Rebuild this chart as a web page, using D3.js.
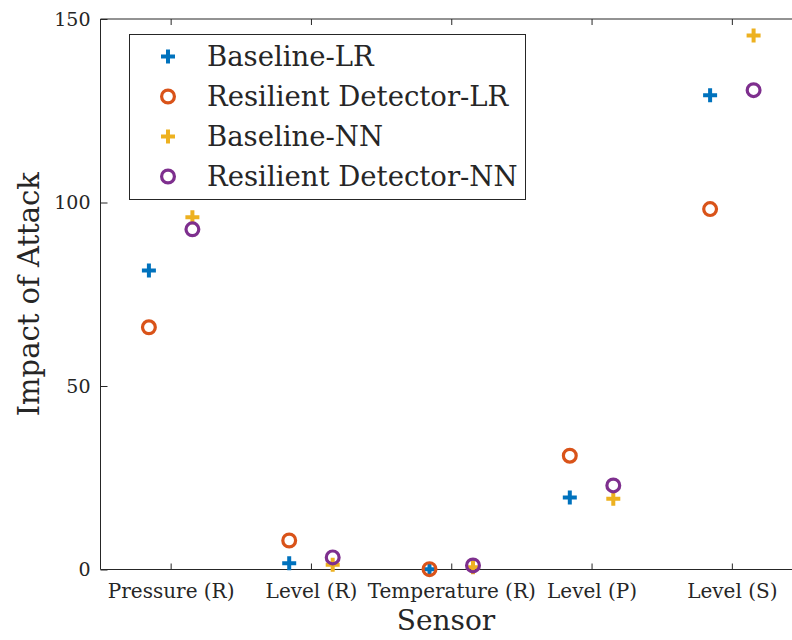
<!DOCTYPE html>
<html>
<head>
<meta charset="utf-8">
<script src="https://cdn.jsdelivr.net/npm/d3@7"></script>
<style>
  body { margin: 0; background: #fff; }
  text { font-family: "DejaVu Serif", serif; fill: #262626; }
</style>
</head>
<body>
<div id="plotviz"></div>
<script>
const sensors = ["Pressure (R)", "Level (R)", "Temperature (R)", "Level (P)", "Level (S)"];
const seriesNames = ["Baseline-LR", "Resilient Detector-LR", "Baseline-NN", "Resilient Detector-NN"];
const baselineLR = [81.5, 1.7, 0.1, 19.6, 129.2];
const resilientLR = [66.0, 7.9, 0.1, 31.0, 98.2];
const baselineNN = [96.0, 1.3, 0.6, 19.3, 145.5];
const resilientNN = [92.7, 3.3, 1.1, 22.9, 130.6];
const yTicks = [0, 50, 100, 150];

const colors = ["#0072BD", "#D95319", "#EDB120", "#7E2F8E"];
const shapes = ["plus", "circle", "plus", "circle"];
const offsets = [-0.155, -0.155, 0.155, 0.155];
const allSeries = [baselineLR, resilientLR, baselineNN, resilientNN];

const W = 792, H = 640;
const axLeft = 100.5, axTop = 19, axBottom = 569.5, axRight = 802;

const svg = d3.select("#plotviz").append("svg")
  .attr("width", W).attr("height", H);

const x = d3.scaleLinear().domain([0.5, 5.5]).range([axLeft, axRight]);
const y = d3.scaleLinear().domain([0, 150]).range([axBottom, axTop]);

const axisColor = "#262626";

// axes box lines
svg.append("line").attr("x1", axLeft).attr("x2", axRight).attr("y1", axBottom).attr("y2", axBottom)
  .attr("stroke", axisColor).attr("stroke-width", 1);
svg.append("line").attr("x1", axLeft).attr("x2", axRight).attr("y1", axTop).attr("y2", axTop)
  .attr("stroke", axisColor).attr("stroke-width", 1);
svg.append("line").attr("x1", axLeft).attr("x2", axLeft).attr("y1", axTop).attr("y2", axBottom)
  .attr("stroke", axisColor).attr("stroke-width", 1);

// x ticks (inward, bottom and top)
const xAxis = d3.axisBottom(x).tickValues(d3.range(1, 6)).tickSize(-6).tickPadding(14)
  .tickFormat((d) => sensors[d - 1]);
const gx = svg.append("g").attr("transform", `translate(0,${axBottom})`).call(xAxis);
gx.select(".domain").remove();
gx.selectAll(".tick line").attr("stroke", axisColor);
gx.selectAll(".tick text").style("font-size", "20px").attr("fill", "#262626");

const gxTop = svg.append("g").attr("transform", `translate(0,${axTop})`)
  .call(d3.axisTop(x).tickValues(d3.range(1, 6)).tickSize(-6).tickFormat(""));
gxTop.select(".domain").remove();
gxTop.selectAll(".tick line").attr("stroke", axisColor);

// y ticks
const gy = svg.append("g").attr("transform", `translate(${axLeft},0)`)
  .call(d3.axisLeft(y).tickValues(yTicks).tickSize(-7).tickPadding(10));
gy.select(".domain").remove();
gy.selectAll(".tick line").attr("stroke", axisColor);
gy.selectAll(".tick text").style("font-size", "19px").attr("fill", "#262626");

// axis labels
svg.append("text")
  .attr("x", 446).attr("y", 630)
  .attr("text-anchor", "middle")
  .style("font-size", "28px")
  .attr("fill", "#000")
  .text("Sensor");
svg.append("text")
  .attr("transform", `translate(39,${(axTop + axBottom) / 2}) rotate(-90)`)
  .attr("text-anchor", "middle")
  .style("font-size", "29px")
  .attr("fill", "#000")
  .text("Impact of Attack");

const plusPath = "M-7,0H7M0,-7V7";

function drawMarker(sel, shape, color) {
  if (shape === "plus") {
    sel.append("path").attr("d", plusPath)
      .attr("fill", "none").attr("stroke", color).attr("stroke-width", 4);
  } else {
    sel.append("circle").attr("r", 6.4)
      .attr("fill", "none").attr("stroke", color).attr("stroke-width", 3.2);
  }
}

// points
allSeries.forEach((vals, si) => {
  const g = svg.append("g");
  g.selectAll("g.pt")
    .data(vals)
    .join("g")
    .attr("class", "pt")
    .attr("transform", (d, i) => `translate(${x(i + 1 + offsets[si])},${y(d)})`)
    .each(function () { drawMarker(d3.select(this), shapes[si], colors[si]); });
});

// legend
const lg = svg.append("g");
lg.append("rect")
  .attr("x", 129.5).attr("y", 34.5).attr("width", 396).attr("height", 165)
  .attr("fill", "#fff").attr("stroke", axisColor).attr("stroke-width", 1);
const rowY = d3.scaleLinear().domain([0, 3]).range([56.5, 176.5]);
seriesNames.forEach((name, i) => {
  const row = lg.append("g").attr("transform", `translate(0,${rowY(i)})`);
  drawMarker(row.append("g").attr("transform", "translate(168,0)"), shapes[i], colors[i]);
  row.append("text")
    .attr("x", 207).attr("y", 0).attr("dy", "0.36em")
    .style("font-size", "27.5px")
    .attr("fill", "#000")
    .text(name);
});
</script>
</body>
</html>
